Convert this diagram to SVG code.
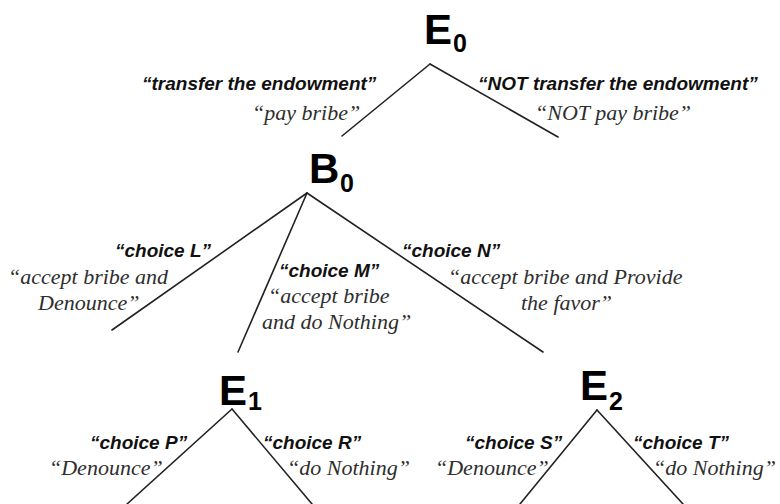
<svg xmlns="http://www.w3.org/2000/svg" width="780" height="504" viewBox="0 0 780 504">
<style>
.bg{fill:#fff}
.node{font-family:"Liberation Sans",Arial,sans-serif;font-weight:bold;fill:#000}
.big{font-size:42px}
.sub{font-size:25px}
.lab{font-family:"Liberation Sans",Arial,sans-serif;font-weight:bold;font-style:italic;font-size:19px;fill:#111}
.desc{font-family:"Liberation Serif","Times New Roman",serif;font-style:italic;font-size:22px;fill:#2e2e2e}
.edge{stroke:#222;stroke-width:1.6;fill:none;stroke-linecap:round}
</style>
<rect class="bg" width="780" height="504"/>
<g id="connectors">
<line class="edge" x1="430" y1="64" x2="342" y2="136"/>
<line class="edge" x1="430" y1="64" x2="558" y2="137"/>
<line class="edge" x1="307" y1="193" x2="112" y2="330"/>
<line class="edge" x1="307" y1="193" x2="238" y2="352"/>
<line class="edge" x1="307" y1="193" x2="543" y2="352"/>
<line class="edge" x1="232" y1="409" x2="127" y2="504"/>
<line class="edge" x1="232" y1="409" x2="312" y2="504"/>
<line class="edge" x1="597" y1="410" x2="520" y2="504"/>
<line class="edge" x1="597" y1="410" x2="683" y2="504"/>
</g>
<g id="E0">
<text class="node big" x="424" y="44">E</text>
<text class="node sub" x="453" y="52">0</text>
</g>
<g id="B0">
<text class="node big" x="309" y="183">B</text>
<text class="node sub" x="340" y="192">0</text>
</g>
<g id="E1">
<text class="node big" x="219" y="405">E</text>
<text class="node sub" x="248" y="410">1</text>
</g>
<g id="E2">
<text class="node big" x="580" y="400">E</text>
<text class="node sub" x="609" y="410">2</text>
</g>
<g id="labels">
<text class="lab" x="142" y="90">“transfer the endowment”</text>
<text class="desc" x="252" y="120">“pay bribe”</text>
<text class="lab" x="478" y="90">“NOT transfer the endowment”</text>
<text class="desc" x="535" y="120">“NOT pay bribe”</text>
<text class="lab" x="115" y="257">“choice L”</text>
<text class="desc" x="8" y="284">“accept bribe and</text>
<text class="desc" x="38" y="310">Denounce”</text>
<text class="lab" x="279" y="277">“choice M”</text>
<text class="desc" x="268" y="303">“accept bribe</text>
<text class="desc" x="262" y="329">and do Nothing”</text>
<text class="lab" x="402" y="257">“choice N”</text>
<text class="desc" x="448" y="284">“accept bribe and Provide</text>
<text class="desc" x="521" y="310">the favor”</text>
<text class="lab" x="90" y="449">“choice P”</text>
<text class="desc" x="49" y="475">“Denounce”</text>
<text class="lab" x="263" y="449">“choice R”</text>
<text class="desc" x="287" y="475">“do Nothing”</text>
<text class="lab" x="465" y="449">“choice S”</text>
<text class="desc" x="435" y="475">“Denounce”</text>
<text class="lab" x="633" y="449">“choice T”</text>
<text class="desc" x="653" y="475">“do Nothing”</text>
</g>
</svg>
